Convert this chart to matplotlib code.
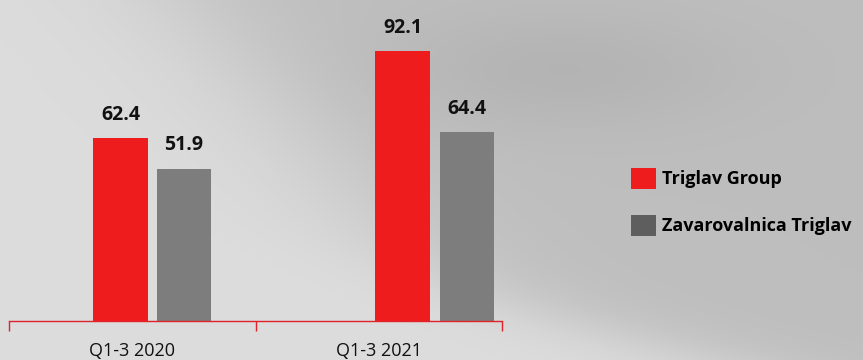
import numpy as np
import matplotlib
matplotlib.use("Agg")
import matplotlib.pyplot as plt
from matplotlib.patches import Patch

plt.rcParams['font.family'] = ['Open Sans', 'DejaVu Sans']

categories = ["Q1-3 2020", "Q1-3 2021"]
series_names = ["Triglav Group", "Zavarovalnica Triglav"]
triglav_group = [62.4, 92.1]
zavarovalnica = [51.9, 64.4]

RED = "#ee1c1c"
GRAY = "#7d7d7d"
GRAY_KEY = "#5e5e5e"

W, H = 863, 360
fig = plt.figure(figsize=(W / 100, H / 100), dpi=100)

# soft grey backdrop
bg = fig.add_axes([0, 0, 1, 1])
yy, xx = np.mgrid[0:H, 0:W].astype(float)
sig = lambda t: 1.0 / (1.0 + np.exp(-t))
right_side = sig((xx - 180 - 0.9 * yy) / 55)
below_band = sig((yy - 307 - 0.25 * (xx - 500)) / 16)
shade = right_side * (1 - below_band)
top_blob = np.exp(-(((xx - 560) / 180) ** 2 + ((yy - 70) / 60) ** 2))
val = 0.865 - 0.12 * shade - 0.04 * top_blob * right_side
bg.imshow(np.dstack([val, val, val]), extent=[0, W, H, 0], aspect="auto")
bg.set_xlim(0, W)
bg.set_ylim(H, 0)
bg.axis("off")

# chart area: x 0..2 spans pixels 9..502, baseline at y=321
ymax = 100
px_per_unit = 2.93
ax = fig.add_axes([9 / W, (H - 321) / H, 493 / W, ymax * px_per_unit / H])
ax.patch.set_alpha(0)

bar_w = 0.223
red_x = [0.452, 1.598]
gray_x = [0.71, 1.858]
b1 = ax.bar(red_x, triglav_group, width=bar_w, color=RED)
b2 = ax.bar(gray_x, zavarovalnica, width=bar_w, color=GRAY)

for bars, vals in ((b1, triglav_group), (b2, zavarovalnica)):
    for b, v in zip(bars, vals):
        ax.text(b.get_x() + b.get_width() / 2, v + 4.6, f"{v:.1f}",
                ha="center", va="bottom", fontsize=14, fontweight="bold",
                color="#111111")

ax.set_xlim(0, 2)
ax.set_ylim(0, ymax)
for s in ("top", "right", "left"):
    ax.spines[s].set_visible(False)
ax.spines["bottom"].set_color("#e0232a")
ax.spines["bottom"].set_linewidth(1.0)
ax.set_yticks([])
ax.set_xticks([0, 1, 2])
ax.set_xticklabels([])
ax.tick_params(axis="x", which="major", length=7, width=1.0, color="#e0232a",
               direction="out")
ax.set_xticks([0.5, 1.5], minor=True)
ax.set_xticklabels(categories, minor=True, fontsize=13, color="#111111")
ax.tick_params(axis="x", which="minor", length=0, pad=15)

handles = [Patch(facecolor=RED), Patch(facecolor=GRAY_KEY)]
fig.legend(handles, series_names, loc="upper left",
           bbox_to_anchor=(622 / W, 1 - 159 / H), frameon=False,
           prop={"weight": "bold", "size": 13},
           handlelength=1.4, handleheight=1.4, handletextpad=0.3,
           labelspacing=1.45, borderpad=0)

fig.savefig("out.png", dpi=100)
